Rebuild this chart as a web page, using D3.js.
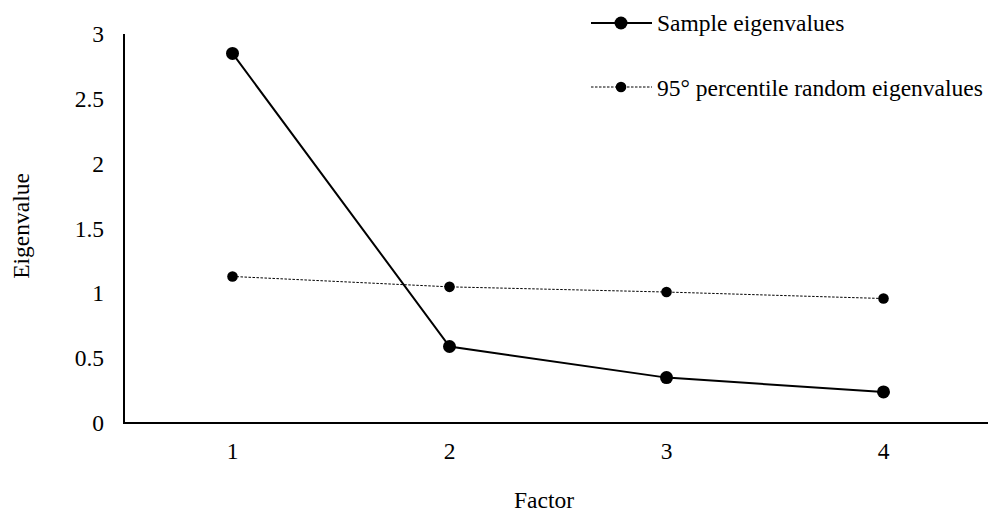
<!DOCTYPE html>
<html>
<head>
<meta charset="utf-8">
<script src="https://cdn.jsdelivr.net/npm/d3@7"></script>
<style>
  body { margin: 0; background: #fff; }
</style>
</head>
<body>
<div id="chart"></div>
<script>
const factors = ["1", "2", "3", "4"];
const sampleEigen = [2.85, 0.59, 0.35, 0.24];
const randomEigen = [1.13, 1.05, 1.01, 0.96];
const yTicks = [0, 0.5, 1, 1.5, 2, 2.5, 3];

const width = 988, height = 516;
const margin = { top: 34, right: -4, bottom: 93, left: 124 };
const FONT = "'Liberation Serif', 'Times New Roman', 'DejaVu Serif', serif";
const FS = "23.5px";

const svg = d3.select("#chart").append("svg")
  .attr("width", width).attr("height", height)
  .attr("font-family", FONT);

const x = d3.scaleBand().domain(factors)
  .range([margin.left, width - margin.right]);
const y = d3.scaleLinear().domain([0, 3])
  .range([height - margin.bottom, margin.top]);

// axes
svg.append("line")
  .attr("x1", margin.left).attr("x2", margin.left)
  .attr("y1", y(3)).attr("y2", y(0))
  .attr("stroke", "#000").attr("stroke-width", 2);
svg.append("line")
  .attr("x1", margin.left - 1).attr("x2", width)
  .attr("y1", y(0)).attr("y2", y(0))
  .attr("stroke", "#000").attr("stroke-width", 2);

svg.selectAll(".ytick").data(yTicks).join("text")
  .attr("class", "ytick")
  .attr("x", 104).attr("y", d => y(d) + 8)
  .attr("text-anchor", "end")
  .attr("font-size", FS)
  .text(d => d);

svg.selectAll(".xtick").data(factors).join("text")
  .attr("class", "xtick")
  .attr("x", d => x(d) + x.bandwidth() / 2)
  .attr("y", 459)
  .attr("text-anchor", "middle")
  .attr("font-size", FS)
  .text(d => d);

svg.append("text")
  .attr("x", 544).attr("y", 508)
  .attr("text-anchor", "middle")
  .attr("font-size", FS)
  .text("Factor");

svg.append("text")
  .attr("transform", "translate(29,226) rotate(-90)")
  .attr("text-anchor", "middle")
  .attr("font-size", FS)
  .text("Eigenvalue");

const cx = d => x(d) + x.bandwidth() / 2;
const line = d3.line().x(d => cx(d[0])).y(d => y(d[1]));

// random eigenvalues (dotted)
const rnd = factors.map((f, i) => [f, randomEigen[i]]);
svg.append("path").datum(rnd)
  .attr("d", line).attr("fill", "none")
  .attr("stroke", "#000").attr("stroke-width", 1)
  .attr("stroke-dasharray", "2.5,1.5");
svg.selectAll(".rdot").data(rnd).join("circle")
  .attr("class", "rdot")
  .attr("cx", d => cx(d[0])).attr("cy", d => y(d[1]))
  .attr("r", 5.3).attr("fill", "#000");

// sample eigenvalues
const smp = factors.map((f, i) => [f, sampleEigen[i]]);
svg.append("path").datum(smp)
  .attr("d", line).attr("fill", "none")
  .attr("stroke", "#000").attr("stroke-width", 2);
svg.selectAll(".sdot").data(smp).join("circle")
  .attr("class", "sdot")
  .attr("cx", d => cx(d[0])).attr("cy", d => y(d[1]))
  .attr("r", 6.5).attr("fill", "#000");

// legend
const legend = [
  { label: "Sample eigenvalues", y: 23, ty: 31, dash: null, sw: 2, r: 6.5 },
  { label: "95° percentile random eigenvalues", y: 87, ty: 96, dash: "2.5,1.5", sw: 1, r: 5.3 }
];
const lg = svg.selectAll(".lg").data(legend).join("g").attr("class", "lg");
lg.append("line")
  .attr("x1", 591).attr("x2", 652)
  .attr("y1", d => d.y).attr("y2", d => d.y)
  .attr("stroke", "#000")
  .attr("stroke-width", d => d.sw)
  .attr("stroke-dasharray", d => d.dash);
lg.append("circle")
  .attr("cx", 621).attr("cy", d => d.y)
  .attr("r", d => d.r).attr("fill", "#000");
lg.append("text")
  .attr("x", 657).attr("y", d => d.ty)
  .attr("font-size", FS)
  .text(d => d.label);
</script>
</body>
</html>
